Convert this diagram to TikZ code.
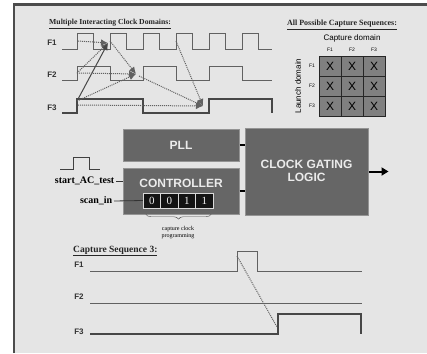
\documentclass[tikz,border=0pt]{standalone}
\usepackage{fontspec}
\setmainfont{Liberation Serif}
\setsansfont{Liberation Sans}
\usetikzlibrary{arrows.meta,decorations.pathreplacing}

\begin{document}
\begin{tikzpicture}[x=1pt,y=-1pt,
  wave/.style={draw=black!62, line width=0.9pt},
  wavebold/.style={draw=black!72, line width=1.5pt},
  launch/.style={black!62, line width=1pt, densely dotted, -{Latex[length=7pt,width=6.5pt]}},
  launchsolid/.style={black!72, line width=1pt, -{Latex[length=7pt,width=6.5pt]}},
  sig/.style={font=\sffamily\bfseries\fontsize{8}{9}\selectfont, text=black!80},
  heading/.style={font=\bfseries\fontsize{7.7}{9}\selectfont, text=black!85, inner sep=1pt},
  block/.style={draw=black!42, line width=1pt, fill=black!60, inner sep=0pt},
  blocktext/.style={font=\sffamily\bfseries\fontsize{12}{13.5}\selectfont, text=black!8, align=center},
  xcell/.style={draw=black!85, fill=black!50, minimum width=22pt, minimum height=20pt, inner sep=0pt, font=\sffamily\fontsize{12}{12}\selectfont},
  regbit/.style={draw=black!15, fill=black!92, minimum width=17.5pt, minimum height=15pt, inner sep=0pt, text=black!5, font=\fontsize{11}{11}\selectfont},
  pin/.style={font=\bfseries\fontsize{10}{11}\selectfont, inner sep=1.5pt},
]
\useasboundingbox (0,0) rectangle (427,353);
\fill[black!10] (14,4) rectangle (427,353);
\draw[black!70, line width=2.2pt] (14,353) -- (14,4.5) -- (427,4.5);

% interacting clock domains
\node[heading, anchor=west] (domtitle) at (48,24) {\underline{Multiple Interacting Clock Domains:}};
\node[sig] (f1) at (52,43) {F1};
\node[sig] (f2) at (52,75) {F2};
\node[sig] (f3) at (52,108) {F3};

\draw[wave] (62,49) foreach \i in {0,...,5} { -- ({77+33*\i},49) -- ++(0,-16) -- ++(16.5,0) -- ++(0,16) } -- (272,49);
\draw[wave] (62,80) foreach \i in {0,1,2} { -- ({77+66*\i},80) -- ++(0,-14) -- ++(33,0) -- ++(0,14) } -- (272,80);
\draw[wavebold] (62,113) -- (77,113) -- (77,99) -- (143,99) -- (143,113) -- (209,113) -- (209,99) -- (272,99) -- (272,113);

\coordinate (t1) at (108,43);
\coordinate (t2) at (136,74);
\coordinate (t3) at (203,106);
\coordinate (a1) at (78,41);
\coordinate (a2) at (77,73);
\coordinate (a3) at (77,101);
\coordinate (b3) at (78,105);
\coordinate (c1) at (110,41);
\coordinate (c2) at (139,76);
\coordinate (d1) at (176,41);

\draw[launch] (a1) -- (t1);
\draw[launch] (a2) -- (t1);
\draw[launchsolid] (a3) -- (t1);
\draw[launch] (c1) -- (t2);
\draw[launch] (a2) -- (t2);
\draw[launch] (a3) -- (t2);
\draw[launch] (c2) -- (t3);
\draw[launch] (d1) -- (t3);
\draw[launch] (b3) -- (t3);

% capture sequence table
\node[heading, anchor=center, font=\bfseries\fontsize{8}{9}\selectfont] (seqtitle) at (342,25) {\underline{All Possible Capture Sequences:}};
\node[font=\sffamily\fontsize{8}{9}\selectfont] (captdom) at (352,38) {Capture domain};
\node[font=\sffamily\fontsize{8}{9}\selectfont, rotate=90] (launchdom) at (298,86) {Launch domain};
\foreach \r [count=\i] in {F1,F2,F3} {
  \node[font=\sffamily\fontsize{5}{5}\selectfont] (col\i) at ({308+22*\i},50) {\r};
  \node[font=\sffamily\fontsize{5}{5}\selectfont] (row\i) at (312,{46+20*\i}) {\r};
  \foreach \c in {1,2,3}
    \node[xcell] (cell\i\c) at ({308+22*\c},{46+20*\i}) {X};
}

% blocks
\node[block, minimum width=116pt, minimum height=32pt] (pll) at (181,145) {};
\node[block, minimum width=116pt, minimum height=46pt] (ctrl) at (181,191) {};
\node[block, minimum width=123pt, minimum height=87pt] (cgl) at (306.5,171.5) {};
\node[blocktext] (plltxt) at (pll) {PLL};
\node[blocktext] (ctrltxt) at (181,183) {CONTROLLER};
\node[blocktext] (cgltxt) at (306.5,171) {CLOCK GATING\\LOGIC};
\draw[black, line width=1.2pt] (pll.east) -- (cgl.west |- pll.east);
\draw[black, line width=1.2pt] (ctrl.east) -- (cgl.west |- ctrl.east);
\draw[black, line width=2pt, -{Triangle[length=7pt,width=8pt]}] (cgl.east) -- ++(20,0);

\foreach \b [count=\i] in {0,0,1,1}
  \node[regbit] (reg\i) at ({134.25+17.5*\i},200.5) {\b};

\node[pin, anchor=east] (start) at (116,181) {start\_AC\_test};
\node[pin, anchor=east] (scanin) at (114,201) {scan\_in};
\draw[black!80, line width=0.8pt] (start.east) -- (ctrl.west |- start.east);
\draw[black!80, line width=0.8pt] (scanin.east) -- (reg1.west);
\draw[black!75, line width=0.9pt] (60,169) -- (73,169) -- (73,157) -- (89,157) -- (89,169) -- (100,169);

\draw[black!70, decorate, decoration={brace, mirror, amplitude=5pt}] ([shift={(3,6)}]reg1.south west) -- ([shift={(-2,6)}]reg4.south east);
\node[font=\fontsize{6}{7}\selectfont, align=center] (prog) at (178,233) {capture clock\\programming};

% capture sequence 3
\node[heading, anchor=west, font=\bfseries\fontsize{9.5}{11}\selectfont] (cs3) at (72,251) {\underline{Capture Sequence 3:}};
\node[sig] (s1) at (79,265) {F1};
\node[sig] (s2) at (79,297) {F2};
\node[sig] (s3) at (79,332) {F3};
\draw[wave] (90,271) -- (237,271) -- (237,251) -- (257,251) -- (257,271) -- (362,271);
\draw[wave] (90,303) -- (362,303);
\draw[wavebold] (90,334) -- (278,334) -- (278,314) -- (361,314) -- (361,334);
\coordinate (e1) at (237,256);
\coordinate (e3) at (277,327);
\draw[black!62, line width=1pt, densely dotted] (e1) -- (e3);
\end{tikzpicture}
\end{document}
